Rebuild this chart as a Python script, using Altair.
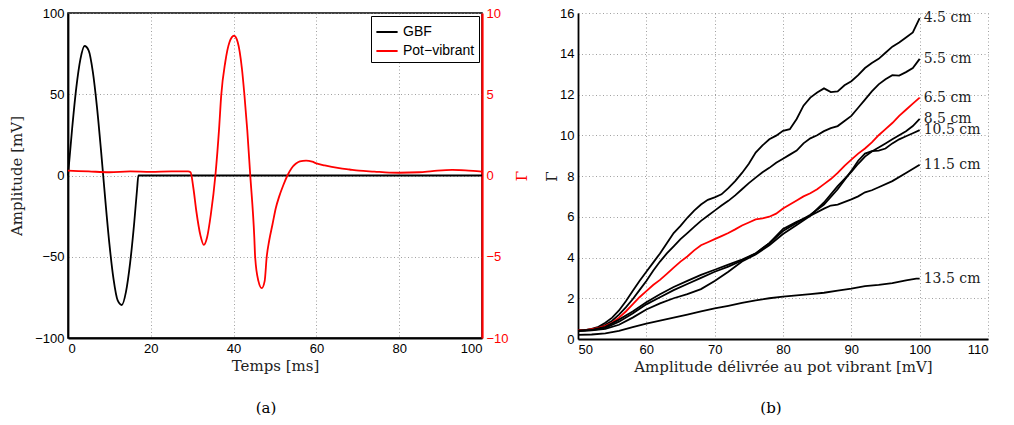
import altair as alt
import pandas as pd

# ---------------- Panel (a): signals vs time ----------------
t_gbf = [0, 1, 2, 3, 4, 5, 6, 7, 8, 8.5, 9, 10, 11, 12, 13, 14, 15, 16, 16.7, 17, 40, 60, 80, 100]
gbf = [0, 28.9, 53.9, 71.6, 79.7, 76.9, 63.8, 42.1, 14.7, 0, -14.7, -42.1, -63.8, -76.9, -79.7, -71.6, -53.9, -28.9, -8, 0, 0, 0, 0, 0]

t_pot = [0, 5, 10, 15, 20, 25, 29, 29.6, 30.3, 31, 32, 32.8, 33.6, 34.5, 35.6, 36.5, 37, 38, 39, 40.1,
         41, 42, 42.6, 43.3, 44, 45, 45.2, 46, 46.8, 47.5, 48, 48.6, 49.4, 50.2, 51, 52, 53, 54, 55, 56,
         57.5, 59, 60, 62, 65.5, 68, 70.3, 74, 77.6, 80, 84.8, 88, 92.8, 96, 99.4, 100]
pot = [0.3, 0.25, 0.2, 0.25, 0.22, 0.25, 0.25, 0.2, -0.8, -2.2, -3.7, -4.27, -3.8, -2.4, 0, 2.9, 4.9, 7.0, 8.2, 8.6,
       8.2, 6.6, 5.0, 2.8, 0.1, -3.8, -5.0, -6.5, -6.93, -6.5, -5.0, -4.0, -3.0, -2.0, -1.3, -0.6, 0, 0.45, 0.72, 0.87,
       0.92, 0.85, 0.75, 0.62, 0.45, 0.37, 0.3, 0.24, 0.18, 0.17, 0.2, 0.27, 0.35, 0.32, 0.25, 0.24]

# ---------------- Panel (b): Gamma vs amplitude ----------------
amp_45 = list(range(50, 101))
gamma_45 = [0.42, 0.44, 0.5, 0.6, 0.8, 1.05, 1.4, 1.85, 2.35, 2.85, 3.3, 3.75, 4.2, 4.7, 5.2, 5.55, 5.95, 6.3, 6.6, 6.83,
            6.95, 7.1, 7.4, 7.75, 8.15, 8.6, 9.15, 9.5, 9.8, 9.98, 10.22, 10.3, 10.8, 11.45, 11.85, 12.1, 12.3, 12.12, 12.15, 12.45,
            12.65, 12.95, 13.3, 13.55, 13.75, 14.05, 14.35, 14.55, 14.8, 15.05, 15.75]

amp_55 = list(range(50, 101))
gamma_55 = [0.42, 0.43, 0.47, 0.55, 0.7, 0.9, 1.2, 1.55, 1.95, 2.4, 2.85, 3.35, 3.8, 4.2, 4.55, 4.9, 5.2, 5.5, 5.8, 6.05,
            6.3, 6.55, 6.78, 7.05, 7.35, 7.65, 7.92, 8.18, 8.4, 8.65, 8.85, 9.05, 9.25, 9.6, 9.85, 10.0, 10.2, 10.35, 10.45, 10.7,
            10.95, 11.35, 11.75, 12.15, 12.5, 12.75, 12.95, 12.93, 13.1, 13.3, 13.75]

amp_65 = list(range(50, 101))
gamma_65 = [0.42, 0.44, 0.48, 0.55, 0.65, 0.8, 1.05, 1.35, 1.7, 2.05, 2.35, 2.65, 2.9, 3.2, 3.5, 3.8, 4.05, 4.35, 4.6, 4.75,
            4.9, 5.05, 5.2, 5.38, 5.57, 5.72, 5.87, 5.92, 6.0, 6.15, 6.4, 6.6, 6.8, 7.0, 7.15, 7.35, 7.6, 7.85, 8.15, 8.5,
            8.8, 9.1, 9.35, 9.65, 10.0, 10.3, 10.6, 10.95, 11.25, 11.55, 11.85]

amp_85 = [50, 52, 54, 56, 58, 60, 62, 64, 66, 68, 70, 72, 74, 76, 78, 80, 82, 84, 86, 88, 90, 91, 92, 93, 94, 95, 96, 97, 98, 99, 100]
gamma_85 = [0.4, 0.42, 0.5, 0.7, 1.05, 1.45, 1.75, 2.0, 2.2, 2.45, 2.85, 3.3, 3.8, 4.15, 4.6, 5.15, 5.6, 6.05, 6.7, 7.5,
            8.2, 8.6, 8.95, 9.2, 9.4, 9.6, 9.8, 10.0, 10.2, 10.45, 10.8]

amp_105 = [50, 52, 54, 56, 58, 60, 62, 64, 66, 68, 70, 72, 74, 76, 78, 80, 82, 84, 86, 88, 90, 91, 92, 93, 94, 95, 96, 97, 98, 99, 100]
gamma_105 = [0.4, 0.44, 0.55, 0.85, 1.25, 1.7, 2.05, 2.4, 2.7, 3.0, 3.3, 3.55, 3.85, 4.2, 4.7, 5.3, 5.7, 6.1, 6.6, 7.35,
             8.25, 8.75, 9.1, 9.22, 9.25, 9.35, 9.6, 9.8, 9.95, 10.1, 10.25]

amp_115 = [50, 52, 54, 56, 58, 60, 62, 64, 66, 68, 70, 72, 74, 76, 78, 80, 82, 84, 86, 87, 88, 90, 91, 92, 93, 94, 96, 98, 100]
gamma_115 = [0.4, 0.45, 0.6, 0.95, 1.35, 1.8, 2.2, 2.55, 2.85, 3.15, 3.4, 3.65, 3.9, 4.2, 4.7, 5.4, 5.75, 6.05, 6.4, 6.55,
             6.6, 6.85, 7.0, 7.2, 7.3, 7.45, 7.75, 8.15, 8.55]

amp_135 = [50, 52, 54, 56, 58, 60, 62, 64, 66, 68, 70, 72, 74, 76, 78, 80, 82, 84, 86, 88, 90, 92, 94, 96, 98, 99.5, 100]
gamma_135 = [0.2, 0.22, 0.28, 0.4, 0.58, 0.75, 0.9, 1.05, 1.2, 1.35, 1.5, 1.63, 1.77, 1.9, 2.0, 2.08, 2.14, 2.2, 2.27, 2.37,
             2.47, 2.6, 2.66, 2.74, 2.88, 2.96, 2.96]

series_names = ["4.5 cm", "5.5 cm", "6.5 cm", "8.5 cm", "10.5 cm", "11.5 cm", "13.5 cm"]
series_colors = ["black", "black", "red", "black", "black", "black", "black"]
series_data = [(amp_45, gamma_45), (amp_55, gamma_55), (amp_65, gamma_65), (amp_85, gamma_85),
               (amp_105, gamma_105), (amp_115, gamma_115), (amp_135, gamma_135)]

SERIF = "DejaVu Serif"
SANS = "Liberation Sans"
GRID_DASH = [1, 2.5]

# ---------------- Build panel (a) ----------------
df_gbf = pd.DataFrame({"t": t_gbf, "v": gbf, "s": "GBF"})
df_pot = pd.DataFrame({"t": t_pot, "v": pot, "s": "Pot−vibrant"})

color_a = alt.Color(
    "s:N",
    scale=alt.Scale(domain=["GBF", "Pot−vibrant"], range=["black", "red"]),
    legend=alt.Legend(
        title=None, orient="top-right", offset=3, symbolType="stroke", symbolSize=450,
        symbolStrokeWidth=2, labelFont=SANS, labelFontSize=14, labelColor="black",
        strokeColor="black", fillColor="white", padding=4, cornerRadius=0, rowPadding=0,
        labelOffset=4,
    ),
)

x_a = alt.X("t:Q", scale=alt.Scale(domain=[0, 100], nice=False),
            axis=alt.Axis(values=[0, 20, 40, 60, 80, 100], title="Temps [ms]", titlePadding=3))

gbf_line = alt.Chart(df_gbf).mark_line(strokeWidth=1.8, interpolate="monotone").encode(
    x=x_a,
    y=alt.Y("v:Q", scale=alt.Scale(domain=[-100, 100], nice=False),
            axis=alt.Axis(orient="left", values=[-100, -50, 0, 50, 100], title="Amplitude [mV]",
                          titleAngle=270, titlePadding=10)),
    color=color_a,
)

pot_line = alt.Chart(df_pot).mark_line(strokeWidth=1.8, interpolate="monotone").encode(
    x=x_a,
    y=alt.Y("v:Q", scale=alt.Scale(domain=[-10, 10], nice=False),
            axis=alt.Axis(orient="right", values=[-10, -5, 0, 5, 10], title="Γ", grid=False,
                          labelColor="red", domainColor="red", tickColor="red", titleColor="red",
                          domainWidth=2.2, titleAngle=270, titleBaseline="top", titlePadding=6,
                          titleFontSize=15)),
    color=color_a,
)

cap_a = alt.Chart(pd.DataFrame({"c": ["(a)"]})).mark_text(
    font=SERIF, fontSize=15, color="black", baseline="middle", align="center"
).encode(x=alt.value(198), y=alt.value(395), text="c:N")

panel_a = alt.layer(gbf_line, pot_line, cap_a).resolve_scale(y="independent").properties(
    width=414, height=325,
    view=alt.ViewBackground(stroke="black", strokeWidth=1.5),
)

# ---------------- Build panel (b) ----------------
rows = []
for name, col, (xs, ys) in zip(series_names, series_colors, series_data):
    for a, g in zip(xs, ys):
        rows.append({"amp": a, "g": g, "serie": name, "col": col})
df_b = pd.DataFrame(rows)

lab_rows = []
for name, (xs, ys) in zip(series_names, series_data):
    lab_rows.append({"amp": xs[-1], "g": ys[-1], "serie": name})
df_lab = pd.DataFrame(lab_rows)

x_b = alt.X("amp:Q", scale=alt.Scale(domain=[50, 110], nice=False),
            axis=alt.Axis(values=[50, 60, 70, 80, 90, 100, 110],
                          title="Amplitude délivrée au pot vibrant [mV]", titlePadding=3))
y_b = alt.Y("g:Q", scale=alt.Scale(domain=[0, 16], nice=False),
            axis=alt.Axis(values=[0, 2, 4, 6, 8, 10, 12, 14, 16], title="Γ", titleAngle=270,
                          titleFontSize=15, titlePadding=0))

lines_b = alt.Chart(df_b).mark_line(strokeWidth=1.8).encode(
    x=x_b, y=y_b,
    color=alt.Color("col:N", scale=None),
    detail="serie:N",
)

labels_b = alt.Chart(df_lab).mark_text(
    font=SERIF, fontSize=14, color="#222222", align="left", baseline="middle", dx=4
).encode(x="amp:Q", y="g:Q", text="serie:N")

cap_b = alt.Chart(pd.DataFrame({"c": ["(b)"]})).mark_text(
    font=SERIF, fontSize=15, color="black", baseline="middle", align="center"
).encode(x=alt.value(193), y=alt.value(395), text="c:N")

panel_b = alt.layer(lines_b, labels_b, cap_b).properties(
    width=410, height=326,
    view=alt.ViewBackground(stroke=None),
)

chart = alt.hconcat(panel_a, panel_b, spacing=14).resolve_scale(
    color="independent"
).resolve_legend(
    color="independent"
).properties(
    padding={"left": 8, "top": 6, "right": 2, "bottom": 2},
    background="white",
).configure_axis(
    labelFont=SANS, labelFontSize=13, labelColor="black", labelPadding=4,
    titleFont=SERIF, titleFontSize=15, titleFontWeight="normal", titleColor="#222222",
    ticks=False, domainColor="black", domainWidth=1.8,
    grid=True, gridColor="#888888", gridDash=GRID_DASH, gridWidth=0.8, gridOpacity=1,
)

chart.save("out.html", embed_options={"renderer": "svg", "actions": False})
